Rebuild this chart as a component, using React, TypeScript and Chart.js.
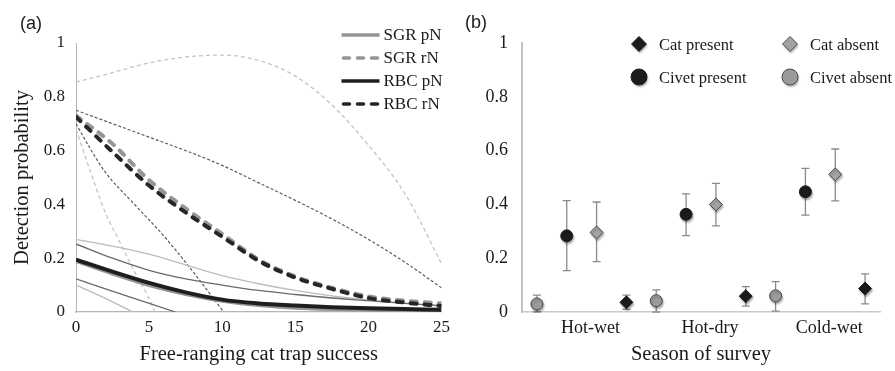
import React, { useEffect, useRef } from "react";
import { Chart, registerables } from "chart.js";

Chart.register(...registerables);

const SERIF = '"Liberation Serif", "Times New Roman", serif';
const SANS = '"Liberation Sans", Arial, sans-serif';

// ---------- Panel (a) data ----------
const trapSuccess = [0, 2.5, 5, 7.5, 10, 12.5, 15, 17.5, 20, 22.5, 25];
const sgrPN = [0.19, 0.143, 0.1, 0.067, 0.042, 0.026, 0.016, 0.011, 0.008, 0.006, 0.004];
const rbcPN = [0.195, 0.15, 0.108, 0.073, 0.046, 0.032, 0.024, 0.018, 0.014, 0.011, 0.008];
const sgrRN = [0.73, 0.625, 0.49, 0.385, 0.29, 0.195, 0.132, 0.09, 0.058, 0.042, 0.032];
const rbcRN = [0.725, 0.595, 0.47, 0.37, 0.28, 0.19, 0.128, 0.086, 0.052, 0.035, 0.022];
const sgrPNUpper = [0.27, 0.245, 0.215, 0.175, 0.135, 0.105, 0.08, 0.06, 0.045, 0.032, 0.022];
const rbcPNUpper = [0.253, 0.2, 0.155, 0.123, 0.1, 0.08, 0.065, 0.052, 0.042, 0.032, 0.024];
const sgrRNUpper = [0.855, 0.89, 0.926, 0.948, 0.955, 0.935, 0.877, 0.77, 0.62, 0.44, 0.18];
const rbcRNUpper = [0.75, 0.7, 0.65, 0.6, 0.545, 0.48, 0.415, 0.346, 0.27, 0.185, 0.09];
const sgrPNLowerX = [0, 1.75, 3.9];
const sgrPNLower = [0.1, 0.057, 0];
const rbcPNLowerX = [0, 3.3, 6.8];
const rbcPNLower = [0.123, 0.063, 0];
const sgrRNLowerX = [0, 1, 2, 3, 4, 5, 5.4];
const sgrRNLower = [0.68, 0.52, 0.37, 0.26, 0.15, 0.05, 0];
const rbcRNLowerX = [0, 1, 2, 4, 6, 8, 10.1];
const rbcRNLower = [0.7, 0.605, 0.52, 0.4, 0.283, 0.15, 0];

const xTicksA = [0, 5, 10, 15, 20, 25];
const yTickVals = [0, 0.2, 0.4, 0.6, 0.8, 1];
const yTickLabels = ["0", "0.2", "0.4", "0.6", "0.8", "1"];
const legendOrderA = ["SGR pN", "SGR rN", "RBC pN", "RBC rN"];

// ---------- Panel (b) data ----------
const seasons = ["Hot-wet", "Hot-dry", "Cold-wet"];
const civetAbsent = [0.03, 0.042, 0.06];
const civetAbsentLow = [0.0, 0.0, 0.003];
const civetAbsentHigh = [0.063, 0.082, 0.113];
const civetPresent = [0.283, 0.363, 0.447];
const civetPresentLow = [0.154, 0.284, 0.36];
const civetPresentHigh = [0.414, 0.439, 0.534];
const catAbsent = [0.296, 0.4, 0.512];
const catAbsentLow = [0.187, 0.32, 0.413];
const catAbsentHigh = [0.409, 0.478, 0.606];
const catPresent = [0.036, 0.059, 0.087];
const catPresentLow = [0.01, 0.022, 0.03];
const catPresentHigh = [0.063, 0.094, 0.142];
const legendOrderB = ["Cat present", "Cat absent", "Civet present", "Civet absent"];

const panelLabel = {
  id: "panelLabel",
  afterDraw(chart: any, _args: any, opts: any) {
    const { ctx } = chart;
    ctx.save();
    ctx.font = `18px ${SANS}`;
    ctx.fillStyle = "#1a1a1a";
    ctx.textBaseline = "middle";
    ctx.textAlign = "left";
    ctx.fillText(opts.text, opts.x, opts.y);
    ctx.restore();
  },
};

const legendA = {
  id: "legendA",
  afterDraw(chart: any) {
    const { ctx, chartArea } = chart;
    legendOrderA.forEach((label, i) => {
      const d: any = chart.data.datasets.find((s: any) => s.label === label);
      const y = chartArea.top - 8 + i * 23;
      const x0 = chartArea.right - 100;
      const dashed = d.borderDash && d.borderDash.length > 0;
      ctx.save();
      ctx.strokeStyle = d.borderColor;
      ctx.lineWidth = 3.5;
      ctx.setLineDash(dashed ? [6, 8] : []);
      ctx.lineCap = dashed ? "round" : "butt";
      ctx.beginPath();
      ctx.moveTo(x0 + (dashed ? 2 : 0), y);
      ctx.lineTo(x0 + (dashed ? 36 : 38), y);
      ctx.stroke();
      ctx.setLineDash([]);
      ctx.fillStyle = "#1a1a1a";
      ctx.font = `17px ${SERIF}`;
      ctx.textBaseline = "middle";
      ctx.textAlign = "left";
      ctx.fillText(label, x0 + 42, y + 1);
      ctx.restore();
    });
  },
};

const errorBars = {
  id: "errorBars",
  beforeDatasetsDraw(chart: any) {
    const { ctx, scales } = chart;
    ctx.save();
    ctx.strokeStyle = "#8a8a8a";
    ctx.lineWidth = 1.3;
    chart.data.datasets.forEach((d: any) => {
      d.data.forEach((p: any, i: number) => {
        const x = scales.x.getPixelForValue(p.x);
        const yl = scales.y.getPixelForValue(d.low[i]);
        const yh = scales.y.getPixelForValue(d.high[i]);
        ctx.beginPath();
        ctx.moveTo(x, yl);
        ctx.lineTo(x, yh);
        ctx.moveTo(x - 4, yl);
        ctx.lineTo(x + 4, yl);
        ctx.moveTo(x - 4, yh);
        ctx.lineTo(x + 4, yh);
        ctx.stroke();
      });
    });
    ctx.restore();
    ctx.save();
    ctx.shadowColor = "rgba(0,0,0,0.3)";
    ctx.shadowOffsetX = 1;
    ctx.shadowOffsetY = 2;
    ctx.shadowBlur = 2;
  },
  afterDatasetsDraw(chart: any) {
    chart.ctx.restore();
  },
};

const legendB = {
  id: "legendB",
  afterDraw(chart: any) {
    const { ctx, chartArea } = chart;
    legendOrderB.forEach((label, i) => {
      const d: any = chart.data.datasets.find((s: any) => s.label === label);
      const col = i % 2;
      const row = Math.floor(i / 2);
      const mx = chartArea.left + 117 + col * 151;
      const my = chartArea.top + 1 + row * 33;
      const isDiamond = d.pointStyle === "rectRot";
      const r = isDiamond ? 7.5 : 8;
      ctx.save();
      ctx.shadowColor = "rgba(0,0,0,0.3)";
      ctx.shadowOffsetX = 1;
      ctx.shadowOffsetY = 2;
      ctx.shadowBlur = 2;
      ctx.fillStyle = d.backgroundColor;
      ctx.strokeStyle = d.borderColor;
      ctx.lineWidth = 1;
      ctx.beginPath();
      if (isDiamond) {
        ctx.moveTo(mx - r, my);
        ctx.lineTo(mx, my - r);
        ctx.lineTo(mx + r, my);
        ctx.lineTo(mx, my + r);
        ctx.closePath();
      } else {
        ctx.arc(mx, my, r, 0, Math.PI * 2);
      }
      ctx.fill();
      ctx.shadowColor = "rgba(0,0,0,0)";
      ctx.stroke();
      ctx.fillStyle = "#1a1a1a";
      ctx.font = `16.5px ${SERIF}`;
      ctx.textBaseline = "middle";
      ctx.textAlign = "left";
      ctx.fillText(label, mx + 20, my + 2);
      ctx.restore();
    });
  },
};

function ChartA() {
  const ref = useRef<HTMLCanvasElement>(null);
  useEffect(() => {
    const pts = (xs: number[], ys: number[]) => ys.map((y, i) => ({ x: xs[i], y }));
    const ds = (label: string, xs: number[], ys: number[], color: string, width: number, dash: number[], cap = "butt") => ({
      label,
      data: pts(xs, ys),
      borderColor: color,
      borderWidth: width,
      borderDash: dash,
      borderCapStyle: cap,
      cubicInterpolationMode: "monotone",
      pointRadius: 0,
      fill: false,
    });
    const chart = new Chart(ref.current as HTMLCanvasElement, {
      type: "line",
      data: {
        datasets: [
          ds("RBC pN", trapSuccess, rbcPN, "#1e1e1e", 4, []),
          ds("RBC rN", trapSuccess, rbcRN, "#262626", 4, [6, 8], "round"),
          ds("SGR rN", trapSuccess, sgrRN, "#959595", 4, [6, 8], "round"),
          ds("SGR pN", trapSuccess, sgrPN, "#959595", 4, []),
          ds("RBC pN upper", trapSuccess, rbcPNUpper, "#6a6a6a", 1.3, []),
          ds("RBC pN lower", rbcPNLowerX, rbcPNLower, "#6a6a6a", 1.3, []),
          ds("SGR pN upper", trapSuccess, sgrPNUpper, "#bcbcbc", 1.3, []),
          ds("SGR pN lower", sgrPNLowerX, sgrPNLower, "#bcbcbc", 1.3, []),
          ds("RBC rN upper", trapSuccess, rbcRNUpper, "#5c5c5c", 1.2, [3, 2]),
          ds("RBC rN lower", rbcRNLowerX, rbcRNLower, "#5c5c5c", 1.2, [3, 2]),
          ds("SGR rN upper", trapSuccess, sgrRNUpper, "#c4c4c4", 1.3, [4, 3]),
          ds("SGR rN lower", sgrRNLowerX, sgrRNLower, "#c4c4c4", 1.3, [4, 3]),
        ] as any,
      },
      options: {
        animation: false,
        responsive: false,
        maintainAspectRatio: false,
        layout: { padding: { left: 0, right: 10, top: 43, bottom: 0 } },
        plugins: {
          legend: { display: false },
          tooltip: { enabled: false },
          panelLabel: { text: "(a)", x: 20, y: 24 },
        } as any,
        scales: {
          x: {
            type: "linear",
            min: 0,
            max: 25,
            afterBuildTicks: (s: any) => {
              s.ticks = xTicksA.map((v) => ({ value: v }));
            },
            ticks: { color: "#1a1a1a", font: { family: SERIF, size: 17 }, padding: 5, maxRotation: 0, autoSkip: false },
            grid: { display: false, drawTicks: false },
            border: { display: true, color: "#b5b5b5", width: 1.2 },
            title: {
              display: true,
              text: "Free-ranging cat trap success",
              color: "#1a1a1a",
              font: { family: SERIF, size: 20.5 },
              padding: { top: 0, bottom: 4.5 },
            },
            afterFit: (s: any) => {
              s.height = 59;
            },
          },
          y: {
            type: "linear",
            min: 0,
            max: 1,
            afterBuildTicks: (s: any) => {
              s.ticks = yTickVals.map((v) => ({ value: v }));
            },
            ticks: {
              color: "#1a1a1a",
              font: { family: SERIF, size: 17 },
              padding: 11,
              callback: (_v: any, i: number) => yTickLabels[i],
            },
            grid: { display: false, drawTicks: false },
            border: { display: true, color: "#b5b5b5", width: 1 },
            title: {
              display: true,
              text: "Detection probability",
              color: "#1a1a1a",
              font: { family: SERIF, size: 20.5 },
              padding: { top: 10.5, bottom: 0 },
            },
            afterFit: (s: any) => {
              s.width = 76;
            },
          },
        } as any,
      },
      plugins: [panelLabel, legendA],
    } as any);
    return () => chart.destroy();
  }, []);
  return <canvas ref={ref} width={455} height={371} style={{ position: "absolute", left: 0, top: 0, width: 455, height: 371 }} />;
}

function ChartB() {
  const ref = useRef<HTMLCanvasElement>(null);
  useEffect(() => {
    const mk = (label: string, slot: number, vals: number[], low: number[], high: number[], style: string, bg: string, border: string, r: number) => ({
      label,
      data: vals.map((v, g) => ({ x: g * 4 + slot + 0.5, y: v })),
      low,
      high,
      pointStyle: style,
      backgroundColor: bg,
      borderColor: border,
      pointBackgroundColor: bg,
      pointBorderColor: border,
      pointBorderWidth: 1,
      pointRadius: r,
      showLine: false,
    });
    const chart = new Chart(ref.current as HTMLCanvasElement, {
      type: "scatter",
      data: {
        datasets: [
          mk("Civet absent", 0, civetAbsent, civetAbsentLow, civetAbsentHigh, "circle", "#9b9b9b", "#4a4a4a", 6),
          mk("Civet present", 1, civetPresent, civetPresentLow, civetPresentHigh, "circle", "#1c1c1c", "#1c1c1c", 6),
          mk("Cat absent", 2, catAbsent, catAbsentLow, catAbsentHigh, "rectRot", "#a3a3a3", "#4a4a4a", 6.5),
          mk("Cat present", 3, catPresent, catPresentLow, catPresentHigh, "rectRot", "#1c1c1c", "#1c1c1c", 6.5),
        ] as any,
      },
      options: {
        animation: false,
        responsive: false,
        maintainAspectRatio: false,
        layout: { padding: { left: 0, right: 15, top: 43, bottom: 0 } },
        plugins: {
          legend: { display: false },
          tooltip: { enabled: false },
          panelLabel: { text: "(b)", x: 10, y: 23 },
        } as any,
        scales: {
          x: {
            type: "linear",
            min: 0,
            max: 12,
            afterBuildTicks: (s: any) => {
              s.ticks = seasons.map((_, g) => ({ value: g * 4 + 2.3 }));
            },
            ticks: {
              color: "#1a1a1a",
              font: { family: SERIF, size: 18 },
              padding: 5,
              maxRotation: 0,
              autoSkip: false,
              callback: (_v: any, i: number) => seasons[i],
            },
            grid: { display: false, drawTicks: false },
            border: { display: true, color: "#cacaca", width: 1.5 },
            title: {
              display: true,
              text: "Season of survey",
              color: "#1a1a1a",
              font: { family: SERIF, size: 20.5 },
              padding: { top: 0, bottom: 4.5 },
            },
            afterFit: (s: any) => {
              s.height = 59;
            },
          },
          y: {
            type: "linear",
            min: 0,
            max: 1,
            afterBuildTicks: (s: any) => {
              s.ticks = yTickVals.map((v) => ({ value: v }));
            },
            ticks: {
              color: "#1a1a1a",
              font: { family: SERIF, size: 18 },
              padding: 14,
              callback: (_v: any, i: number) => yTickLabels[i],
            },
            grid: { display: false, drawTicks: false },
            border: { display: true, color: "#c4c4c4", width: 2 },
            afterFit: (s: any) => {
              s.width = 67;
            },
          },
        } as any,
      },
      plugins: [panelLabel, errorBars, legendB],
    } as any);
    return () => chart.destroy();
  }, []);
  return <canvas ref={ref} width={440} height={371} style={{ position: "absolute", left: 455, top: 0, width: 440, height: 371 }} />;
}

export default function App() {
  return (
    <div style={{ position: "absolute", left: 0, top: 0, width: 895, height: 371, background: "#fff" }}>
      <ChartA />
      <ChartB />
    </div>
  );
}
